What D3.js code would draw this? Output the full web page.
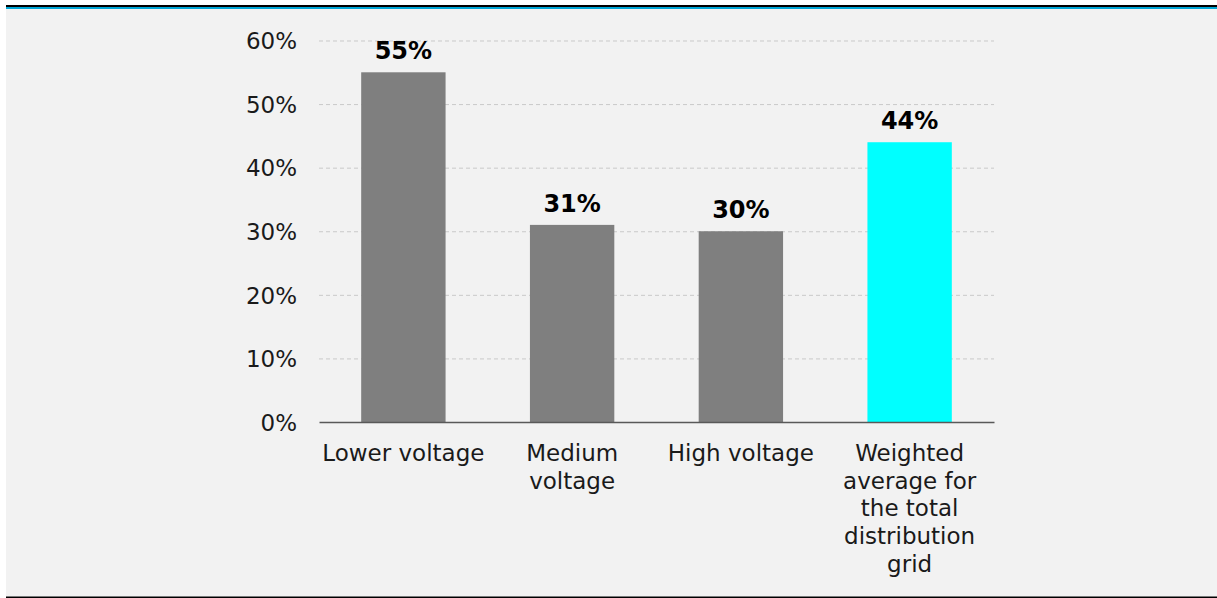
<!DOCTYPE html>
<html>
<head>
<meta charset="utf-8">
<script src="https://cdn.jsdelivr.net/npm/d3@7"></script>
<style>
  html, body { margin: 0; padding: 0; background: #ffffff; }
  svg { display: block; }
  text { font-family: Verdana, "DejaVu Sans", sans-serif; }
</style>
</head>
<body>
<svg id="chart" width="1217" height="598"></svg>
<script>
// Share of grid losses by voltage level
const categories = [
  "Lower voltage",
  "Medium\nvoltage",
  "High voltage",
  "Weighted\naverage for\nthe total\ndistribution\ngrid"
];
const values = [55, 31, 30, 44];
const yTicks = [0, 10, 20, 30, 40, 50, 60];

const W = 1217, H = 598;
const plot = { left: 319, right: 994, top: 40.5, bottom: 422 };
const barGray = "#7f7f7f";
const barHighlight = "#00ffff";
const highlightIndex = 3;

const svg = d3.select("#chart");

// panel background and framing rules
svg.append("rect").attr("x", 6).attr("y", 9).attr("width", W - 6).attr("height", H - 9)
  .attr("fill", "#f2f2f2");
svg.append("rect").attr("x", 6).attr("y", 5).attr("width", W - 6).attr("height", 2)
  .attr("fill", "#000000");
svg.append("rect").attr("x", 6).attr("y", 7).attr("width", W - 6).attr("height", 2)
  .attr("fill", "#00a6d6");
svg.append("rect").attr("x", 6).attr("y", 596.5).attr("width", W - 6).attr("height", 1.5)
  .attr("fill", "#000000");

const x = d3.scaleBand()
  .domain(categories)
  .range([plot.left, plot.right])
  .paddingInner(0.5)
  .paddingOuter(0.25);

const y = d3.scaleLinear()
  .domain([0, 60])
  .range([plot.bottom, plot.top]);

// dashed horizontal gridlines
const grid = svg.append("g")
  .attr("transform", `translate(${plot.left},0)`)
  .call(d3.axisLeft(y).tickValues(yTicks.filter(t => t > 0))
    .tickSize(-(plot.right - plot.left)).tickFormat(""));
grid.select(".domain").remove();
grid.selectAll(".tick line")
  .attr("stroke", "#c9c9c9")
  .attr("stroke-width", 1)
  .attr("stroke-dasharray", "4,3");

// y-axis labels
const yAxis = svg.append("g")
  .attr("transform", `translate(${plot.left},0)`)
  .call(d3.axisLeft(y).tickValues(yTicks).tickSize(0).tickPadding(22)
    .tickFormat(d => d + "%"));
yAxis.select(".domain").remove();
yAxis.selectAll("text")
  .attr("font-size", 23)
  .attr("fill", "#1a1a1a")
  .attr("dy", "0.36em")
  .style("font-family", "Verdana, 'DejaVu Sans', sans-serif");

// bars
svg.append("g").selectAll("rect")
  .data(values)
  .join("rect")
  .attr("x", (d, i) => x(categories[i]))
  .attr("y", d => y(d))
  .attr("width", x.bandwidth())
  .attr("height", d => y(0) - y(d))
  .attr("fill", (d, i) => i === highlightIndex ? barHighlight : barGray);

// value labels
svg.append("g").selectAll("text")
  .data(values)
  .join("text")
  .attr("x", (d, i) => x(categories[i]) + x.bandwidth() / 2)
  .attr("y", d => y(d) - 13)
  .attr("text-anchor", "middle")
  .attr("font-size", 24)
  .attr("font-weight", "bold")
  .attr("fill", "#000000")
  .text(d => d + "%");

// baseline axis
const xAxis = svg.append("g")
  .attr("transform", `translate(0,${plot.bottom})`)
  .call(d3.axisBottom(x).tickSize(0).tickFormat(""));
xAxis.select(".domain")
  .attr("stroke", "#595959")
  .attr("stroke-width", 1.5);

// category labels, wrapped onto several lines
const catLabels = svg.append("g").selectAll("text")
  .data(categories)
  .join("text")
  .attr("x", d => x(d) + x.bandwidth() / 2)
  .attr("y", 461)
  .attr("text-anchor", "middle")
  .attr("font-size", 23)
  .attr("fill", "#1a1a1a");
catLabels.each(function(d) {
  const t = d3.select(this);
  d.split("\n").forEach((line, k) => {
    t.append("tspan")
      .attr("x", x(d) + x.bandwidth() / 2)
      .attr("dy", k === 0 ? 0 : 27.7)
      .text(line);
  });
});
</script>
</body>
</html>
